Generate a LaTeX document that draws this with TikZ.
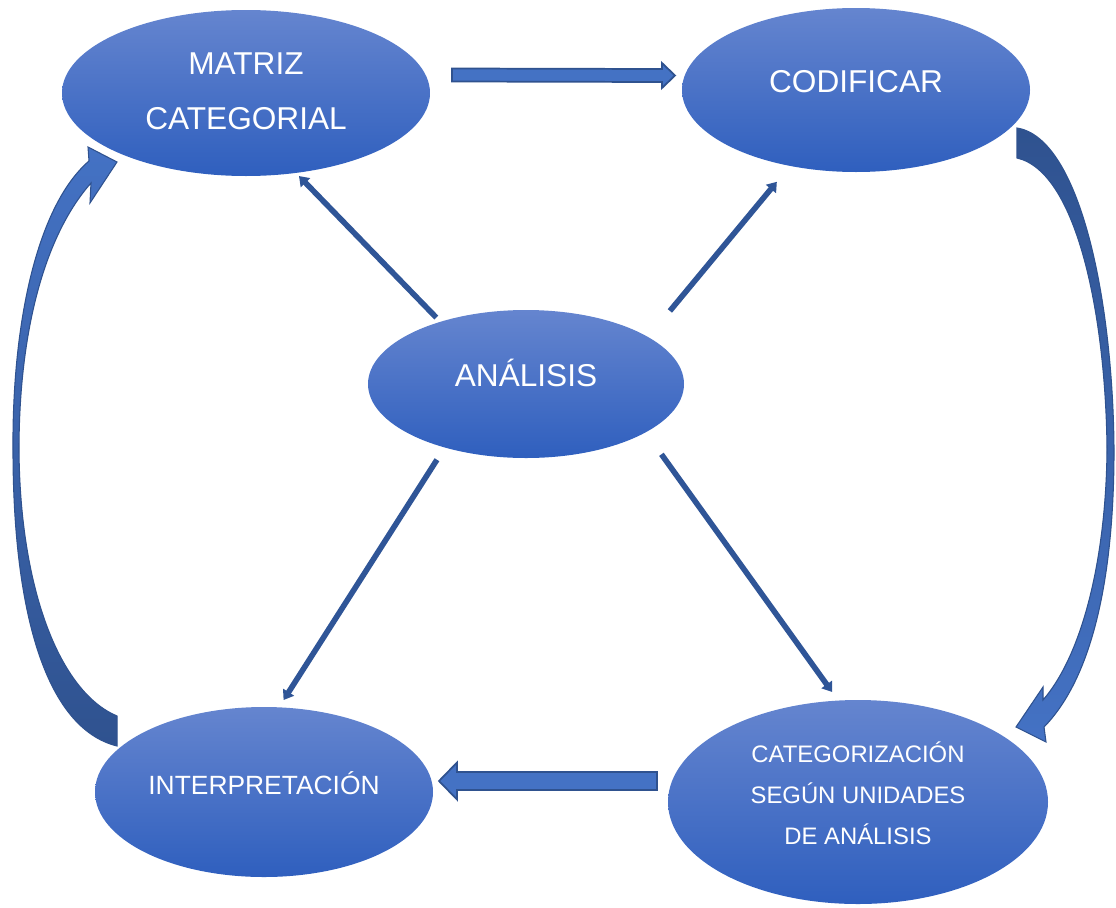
\documentclass[tikz,border=0pt]{standalone}
\usepackage{fontspec}
\setmainfont{Liberation Sans}
\usetikzlibrary{calc,arrows.meta,shapes.geometric}
\definecolor{elltop}{HTML}{6585CF}
\definecolor{ellbot}{HTML}{2F5FBE}
\definecolor{blkfill}{HTML}{4472C4}
\definecolor{blkline}{HTML}{2F528F}
\definecolor{thinout}{HTML}{2F5597}
\definecolor{thinin}{HTML}{4F78C4}
\newcommand\thinconn[4]{%
  \draw[thinarrow, shorten <=#3, shorten >=#4] (#1) -- (#2);}
\begin{document}
\begin{tikzpicture}[x=0.75pt,y=-0.75pt,
  oval/.style={ellipse, inner sep=0pt, outer sep=0pt, top color=elltop, bottom color=ellbot, draw=none},
  lbl/.style={text=white, align=center, inner sep=0pt},
  thinarrow/.style={draw=thinout, line width=4.2pt, -{Triangle[length=7pt,width=9.5pt]}},
  blk/.style={fill=blkfill, draw=blkline, line width=1.3pt, line join=miter},
  curv/.style={draw=blkline, line width=0.8pt, line join=miter},
]
\useasboundingbox (0,0) rectangle (1116,907);

% ovals
\node[oval, minimum width=276pt, minimum height=124.5pt] (mat) at (246,93) {};
\node[oval, minimum width=261pt, minimum height=123pt] (cod) at (856,90) {};
\node[oval, minimum width=237pt, minimum height=111pt] (ana) at (526,384) {};
\node[oval, minimum width=253.5pt, minimum height=127.5pt] (int) at (264,792) {};
\node[oval, minimum width=285pt, minimum height=153pt] (cat) at (858,802) {};

% labels
\node[lbl, font=\fontsize{23.7pt}{41pt}\selectfont] (matl) at (246,91.5) {MATRIZ\\CATEGORIAL};
\node[lbl, font=\fontsize{23.7pt}{41pt}\selectfont] (codl) at (856,82) {CODIFICAR};
\node[lbl, font=\fontsize{23.7pt}{41pt}\selectfont] (anal) at (526,373) {ANÁLISIS};
\node[lbl, font=\fontsize{19.8pt}{30pt}\selectfont] (intl) at (264,783.5) {INTERPRETACIÓN};
\node[lbl, font=\fontsize{17.9pt}{30.75pt}\selectfont] (catl) at (858,793.5) {CATEGORIZACIÓN\\SEGÚN UNIDADES\\DE ANÁLISIS};

% thin arrows from the centre
\thinconn{ana.144.6}{mat.302.6}{4.4pt}{3.3pt}
\thinconn{ana.21.9}{cod.229.9}{25.5pt}{15.5pt}
\thinconn{ana.218.5}{int.80.4}{10.9pt}{6.5pt}
\thinconn{ana.338.2}{cat.101.2}{20.3pt}{7.9pt}

% straight block arrows
\coordinate (t1) at ($(mat.east)+(22,-18)$);
\coordinate (t2) at ($(cod.west)+(-7,-14.5)$);
\draw[blk] ($(t1)+(0,-6.5)$) -- ($(t2)+(-13,-6.5)$) -- ($(t2)+(-13,-12.5)$) -- (t2)
  -- ($(t2)+(-13,12.5)$) -- ($(t2)+(-13,6.5)$) -- ($(t1)+(0,6.5)$) -- cycle;

\coordinate (b1) at ($(cat.west)+(-11,-21)$);
\coordinate (b2) at ($(int.east)+(6,-11)$);
\draw[blk] ($(b1)+(0,-9)$) -- ($(b2)+(18,-9)$) -- ($(b2)+(18,-18.5)$) -- (b2)
  -- ($(b2)+(18,18.5)$) -- ($(b2)+(18,9)$) -- ($(b1)+(0,9)$) -- cycle;

% curved block arrows
\shade[curv, top color=blkfill, bottom color=blkline]
  (117,746) -- (117,716) .. controls (60,692) and (20,590) .. (19,450)
  .. controls (19,330) and (45,235) .. (91,183) -- (90,203) -- (117,162) -- (88,147) -- (89,161)
  .. controls (38,205) and (12,320) .. (13,450)
  .. controls (13,610) and (45,728) .. (117,746) -- cycle;

\shade[curv, top color=blkline, bottom color=blkfill]
  (1017,128) .. controls (1080,138) and (1113,300) .. (1114,450)
  .. controls (1114,585) and (1090,680) .. (1044,727) -- (1046,742) -- (1016,727) -- (1043,687) -- (1043,700)
  .. controls (1082,655) and (1106,560) .. (1107,450)
  .. controls (1106,320) and (1078,172) .. (1017,158) -- cycle;
\end{tikzpicture}
\end{document}
